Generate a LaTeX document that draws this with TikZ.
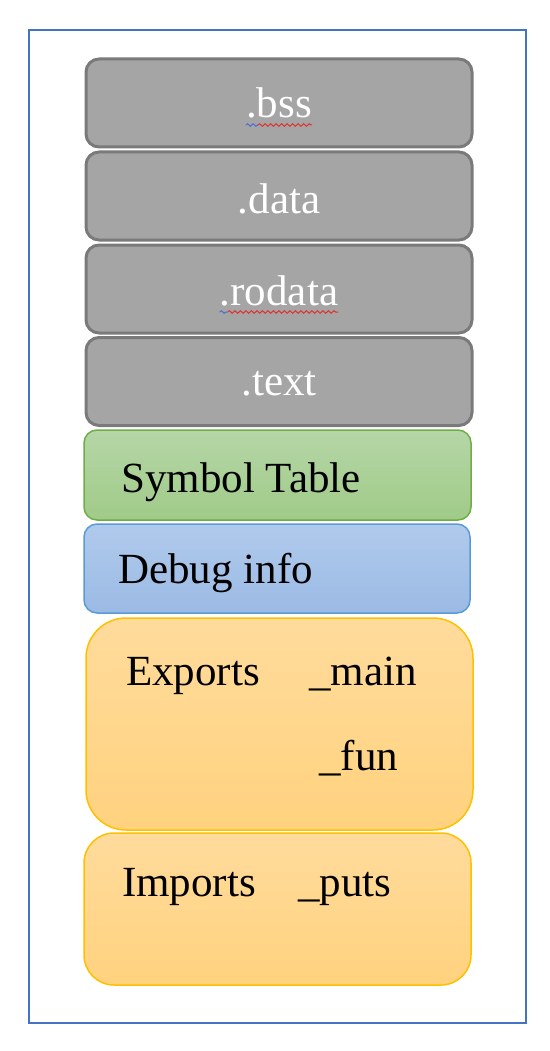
\documentclass[tikz,border=0pt]{standalone}
\usepackage{fontspec}
\setmainfont{Liberation Serif}
\usetikzlibrary{decorations.pathmorphing}
\definecolor{framecol}{HTML}{4472C4}
\definecolor{secfill}{HTML}{A5A5A5}
\definecolor{secline}{HTML}{7A7A7A}
\definecolor{symtop}{HTML}{B5D6A7}
\definecolor{symbot}{HTML}{A0CB88}
\definecolor{symline}{HTML}{70AD47}
\definecolor{dbgtop}{HTML}{B0CAEC}
\definecolor{dbgbot}{HTML}{9BBAE4}
\definecolor{dbgline}{HTML}{5B9BD5}
\definecolor{exptop}{HTML}{FFDB9C}
\definecolor{expbot}{HTML}{FFD27E}
\definecolor{expline}{HTML}{FFC000}
\definecolor{spellred}{HTML}{E03030}
\definecolor{spellblue}{HTML}{4A6FD0}
\tikzset{
    secbox/.style={draw=secline, fill=secfill, line width=3, rounded corners=13,
        minimum width=386, minimum height=88, inner sep=0},
    symbox/.style={draw=symline, top color=symtop, bottom color=symbot, line width=1.5,
        rounded corners=13, minimum width=387, minimum height=90, inner sep=0},
    dbgbox/.style={draw=dbgline, top color=dbgtop, bottom color=dbgbot, line width=1.5,
        rounded corners=13, minimum width=386, minimum height=89, inner sep=0},
    expbox/.style={draw=expline, top color=exptop, bottom color=expbot, line width=1.5,
        minimum width=387, inner sep=0},
    boxtext/.style={font=\fontsize{43}{50}\selectfont, inner sep=0},
    spell/.style={line width=1, decorate, decoration={snake, amplitude=1.3, segment length=5.5}}
}
\newcommand{\secpart}[4]{
            \node[secbox] (#1) at (279, #2) {};
            \node[boxtext, white, anchor=base] (#1txt) at (279, #3) {#4};
        }
\begin{document}
\begin{tikzpicture}[x=1pt, y=-1pt]
        \useasboundingbox (0, 0) rectangle (549, 1051);
        \draw[framecol, line width=2] (29, 30) rectangle (526, 1023);

        \secpart{bss}{103}{118}{.bss}
        \secpart{data}{196}{213}{.data}
        \secpart{rodata}{289}{305}{.rodata}
        \secpart{text}{381.5}{395}{.text}

        \draw[spell, spellblue] ([yshift=-7]bsstxt.base west) -- ([xshift=12, yshift=-7]bsstxt.base west);
        \draw[spell, spellred] ([xshift=12, yshift=-7]bsstxt.base west) -- ([yshift=-7]bsstxt.base east);
        \draw[spell, spellblue] ([yshift=-7]rodatatxt.base west) -- ([xshift=8, yshift=-7]rodatatxt.base west);
        \draw[spell, spellred] ([xshift=8, yshift=-7]rodatatxt.base west) -- ([yshift=-7]rodatatxt.base east);

        \node[symbox] (symtab) at (277.5, 475) {};
        \node[boxtext, anchor=base west] (symtabtxt) at (121, 492) {Symbol Table};

        \node[dbgbox] (debug) at (277, 568.5) {};
        \node[boxtext, anchor=base west] (debugtxt) at (118, 583) {Debug info};

        \node[expbox, rounded corners=40, minimum height=212] (exports) at (279.5, 724) {};
        \node[boxtext, anchor=base west] (exportstxt) at (126, 685) {Exports};
        \node[boxtext, anchor=base west] (maintxt) at (309, 685) {\_main};
        \node[boxtext, anchor=base west] (funtxt) at (319, 770) {\_fun};

        \node[expbox, rounded corners=30, minimum height=152] (imports) at (277.5, 909) {};
        \node[boxtext, anchor=base west] (importstxt) at (122, 896) {Imports};
        \node[boxtext, anchor=base west] (putstxt) at (298, 896) {\_puts};
        \end{tikzpicture}
\end{document}
